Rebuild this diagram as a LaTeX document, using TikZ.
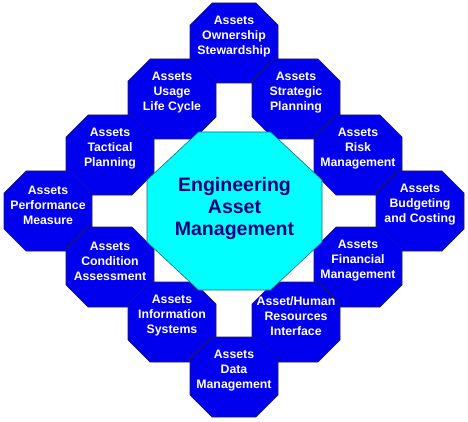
\documentclass[tikz,border=0pt]{standalone}
\usepackage{fontspec}
\setmainfont{Liberation Sans}
\begin{document}
\begin{tikzpicture}[x=1pt,y=-1pt]
\definecolor{octblue}{RGB}{0,0,238}
\definecolor{octline}{RGB}{30,30,90}
\definecolor{corefill}{RGB}{0,255,255}
\definecolor{coreline}{RGB}{20,110,120}
\definecolor{coretext}{RGB}{0,0,128}
\tikzset{
  octshape/.style={fill=octblue, draw=octline, line width=0.6pt},
  octtext/.style={text=white, font=\bfseries\fontsize{12.3}{15}\selectfont, align=center, inner sep=0pt},
  coreshape/.style={fill=corefill, draw=coreline, line width=0.6pt},
  coretextstyle/.style={text=coretext, font=\bfseries\fontsize{19.5}{22}\selectfont, align=center, inner sep=0pt}
}
\newcommand\octa[4]{%
  \path[octshape] (#1-22,#2-40) -- (#1+22,#2-40) -- (#1+44,#2-18) -- (#1+44,#2+18)
    -- (#1+22,#2+40) -- (#1-22,#2+40) -- (#1-44,#2+18) -- (#1-44,#2-18) -- cycle;
  \node[octtext] (#3) at (#1,#2-6) {#4};
}
\useasboundingbox (0,0) rectangle (468,422);
\fill[white] (0,0) rectangle (468,422);
\octa{234}{43}{own}{Assets\\Ownership\\Stewardship}
\octa{172}{99}{usage}{Assets\\Usage\\Life Cycle}
\octa{296}{99}{strat}{Assets\\Strategic\\Planning}
\octa{110}{155}{tact}{Assets\\Tactical\\Planning}
\octa{358}{155}{risk}{Assets\\Risk\\Management}
\octa{48}{211}{perf}{Assets\\Performance\\Measure}
\octa{420}{211}{budg}{Assets\\Budgeting\\and Costing}
\octa{110}{267}{cond}{Assets\\Condition\\Assessment}
\octa{358}{267}{fin}{Assets\\Financial\\Management}
\octa{172}{322}{info}{Assets\\Information\\Systems}
\octa{296}{322}{hr}{Asset/Human\\Resources\\Interface}
\octa{234}{377}{data}{Assets\\Data\\Management}
\path[coreshape] (198.5,132) -- (270.5,132) -- (322,180) -- (322,242) -- (270.5,290)
  -- (198.5,290) -- (147,242) -- (147,180) -- cycle;
\node[coretextstyle] (core) at (234.5,208.5) {Engineering\\Asset\\Management};
\end{tikzpicture}
\end{document}
